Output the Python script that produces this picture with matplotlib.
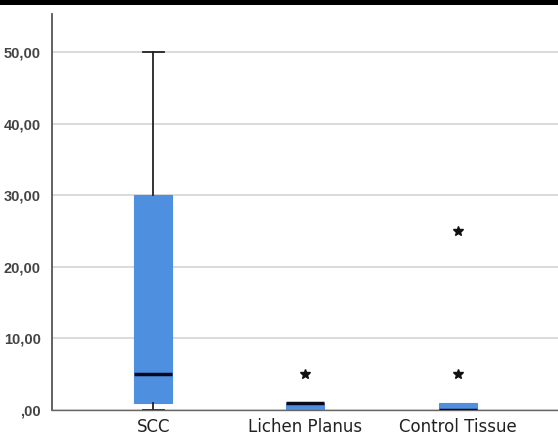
import matplotlib
matplotlib.use("Agg")
import matplotlib.pyplot as plt
from matplotlib.patches import Rectangle

categories = ["SCC", "Lichen Planus", "Control Tissue"]
whisker_low = [0, 0, 0]
q1 = [1, 0, 0]
median = [5, 1, 0]
q3 = [30, 1, 1]
whisker_high = [50, 1, 1]
outliers = [[], [5], [5, 25]]
yticks = [0, 10, 20, 30, 40, 50]
ytick_labels = [",00", "10,00", "20,00", "30,00", "40,00", "50,00"]

fig = plt.figure(figsize=(5.58, 4.36), dpi=100)
fig.patch.set_facecolor("white")
fig.patches.append(Rectangle((0, 1 - 5/436), 1, 5/436, transform=fig.transFigure,
                             facecolor="black", edgecolor="none", zorder=0))
ax = fig.add_axes([52/558, 1 - 410/436, 1 - 52/558, (410 - 14)/436])

stats = []
for i, c in enumerate(categories):
    stats.append(dict(label=c, whislo=whisker_low[i], q1=q1[i], med=median[i],
                      q3=q3[i], whishi=whisker_high[i], fliers=outliers[i]))

res = ax.bxp(stats, positions=[1, 2, 3], widths=0.25, patch_artist=True, showfliers=True,
             boxprops=dict(facecolor="#4f8fe0", edgecolor="#4f8fe0", linewidth=0.8),
             medianprops=dict(color="#0a0a1e", linewidth=2.5),
             whiskerprops=dict(color="#222222", linewidth=1.3),
             capprops=dict(color="#222222", linewidth=1.3),
             capwidths=0.14,
             flierprops=dict(marker="*", markerfacecolor="#111111", markeredgecolor="#111111",
                             markersize=7.5, linestyle="none"))

# hide caps/whiskers of zero length (SPSS style)
for i in range(len(categories)):
    lo_cap, hi_cap = res["caps"][2 * i], res["caps"][2 * i + 1]
    lo_wh, hi_wh = res["whiskers"][2 * i], res["whiskers"][2 * i + 1]
    if whisker_low[i] == q1[i]:
        lo_cap.set_visible(False)
        lo_wh.set_visible(False)
    if whisker_high[i] == q3[i]:
        hi_cap.set_visible(False)
        hi_wh.set_visible(False)
    lo_cap.set_clip_on(False)
for m in res["medians"]:
    m.set_zorder(4)

ax.set_xlim(0.335, 3.66)
ax.set_ylim(0, 55.3)
ax.set_yticks(yticks)
ax.set_yticklabels(ytick_labels, fontsize=10.5, color="#444444", fontweight="bold",
                   family="Liberation Sans")
ax.tick_params(axis="y", length=0, pad=8)
ax.tick_params(axis="x", length=0, pad=6, labelsize=12, colors="#222222")
ax.yaxis.grid(True, color="#d4d4d4", linewidth=1.2)
ax.set_axisbelow(True)
for s in ["top", "right"]:
    ax.spines[s].set_visible(False)
ax.spines["left"].set_color("#555555")
ax.spines["left"].set_linewidth(1.3)
ax.spines["bottom"].set_color("#666666")
ax.spines["bottom"].set_linewidth(1.0)

fig.savefig("out.png", dpi=100)
